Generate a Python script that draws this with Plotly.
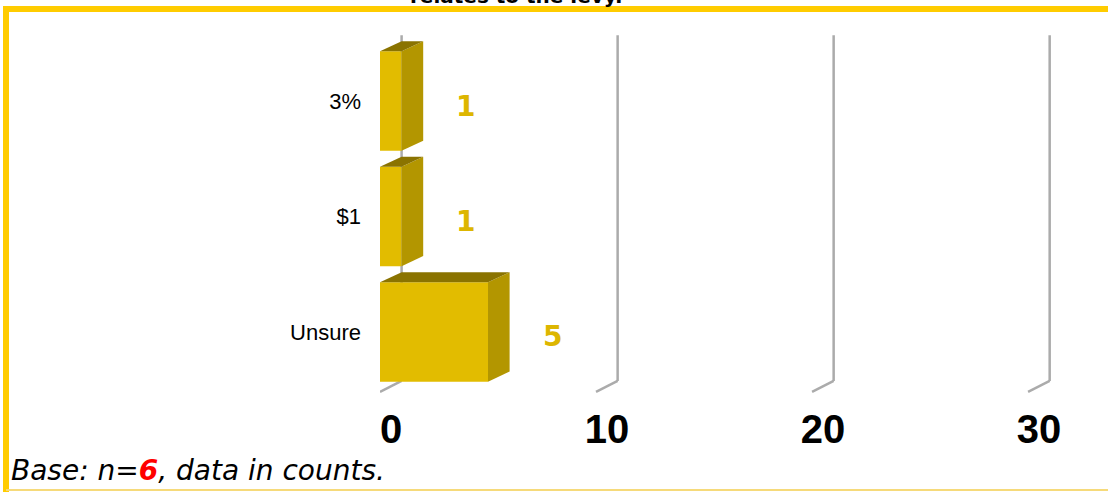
import plotly.graph_objects as go

# ---------------- data ----------------
categories = ["Unsure", "$1", "3%"]          # bottom -> top
counts = [5, 1, 1]
x_ticks = [0, 10, 20, 30]
title_text = "relates to the levy."
base_n = 6

# ---------------- style ----------------
FRONT = "#E2BC00"
SIDE = "#B39600"
TOP = "#8A7300"
GRID = "#ABABAB"
LABEL_GOLD = "#DDB600"
BORDER = "#FFCC00"

W = 0.86      # bar thickness (category units)
DX = 1.0      # 3D depth in x data units
DY = 0.087    # 3D depth in category units

# figure geometry (pixels)
FIG_W, FIG_H = 1108, 492
M_L, M_R, M_T, M_B = 380, 0, 30, 92
PLOT_W = FIG_W - M_L - M_R
PLOT_H = FIG_H - M_T - M_B


def px_x(px):
    return (px - M_L) / PLOT_W


def px_y(py):
    return (FIG_H - M_B - py) / PLOT_H


ypos = list(range(len(categories)))

fig = go.Figure(
    go.Bar(
        x=counts,
        y=ypos,
        orientation="h",
        width=W,
        marker=dict(color=FRONT, line=dict(width=0)),
        hoverinfo="skip",
    )
)

shapes = []
# back-wall gridlines with a slanted floor segment
y_top = 2.57
floor_back = -0.424
floor_front = floor_back - 0.095
for t in x_ticks:
    shapes.append(dict(type="line", xref="x", yref="y", x0=t + DX, x1=t + DX,
                       y0=floor_back, y1=y_top, layer="below",
                       line=dict(color=GRID, width=2.5)))
    shapes.append(dict(type="line", xref="x", yref="y", x0=t, x1=t + DX,
                       y0=floor_front, y1=floor_back, layer="below",
                       line=dict(color=GRID, width=2.5)))

# 3D faces of bars
for c, v in zip(ypos, counts):
    lo, hi = c - W / 2, c + W / 2
    side = f"M {v},{lo} L {v + DX},{lo + DY} L {v + DX},{hi + DY} L {v},{hi} Z"
    top = f"M 0,{hi} L {v},{hi} L {v + DX},{hi + DY} L {DX},{hi + DY} Z"
    shapes.append(dict(type="path", xref="x", yref="y", path=side,
                       fillcolor=SIDE, line=dict(width=0), layer="above"))
    shapes.append(dict(type="path", xref="x", yref="y", path=top,
                       fillcolor=TOP, line=dict(width=0), layer="above"))

# yellow frame
shapes.append(dict(type="line", xref="paper", yref="paper",
                   x0=px_x(3), x1=px_x(1120), y0=px_y(9), y1=px_y(9),
                   line=dict(color=BORDER, width=6)))
shapes.append(dict(type="line", xref="paper", yref="paper",
                   x0=px_x(6), x1=px_x(6), y0=px_y(6), y1=px_y(492),
                   line=dict(color=BORDER, width=6)))
shapes.append(dict(type="line", xref="paper", yref="paper",
                   x0=px_x(6), x1=px_x(1120), y0=px_y(490), y1=px_y(490),
                   line=dict(color="#F6DA7A", width=2)))

annotations = []
for c, v in zip(ypos, counts):
    annotations.append(dict(
        x=v, y=c, xref="x", yref="y", text=f"<b>{v}</b>", showarrow=False,
        xanchor="center", yanchor="middle", xshift=64, yshift=-5,
        font=dict(family="DejaVu Sans", size=28, color=LABEL_GOLD)))

annotations.append(dict(
    x=px_x(516), y=px_y(-4), xref="paper", yref="paper",
    text=f"<b>{title_text}</b>", showarrow=False,
    xanchor="center", yanchor="middle",
    font=dict(family="DejaVu Sans", size=20, color="black")))

annotations.append(dict(
    x=px_x(9), y=px_y(470), xref="paper", yref="paper",
    text=(f"<i>Base: n=<b><span style='color:#FF0000'>{base_n}</span></b>"
          f", data in counts.</i>"),
    showarrow=False, xanchor="left", yanchor="middle",
    font=dict(family="DejaVu Sans", size=28, color="black")))

fig.update_layout(
    width=FIG_W, height=FIG_H,
    margin=dict(l=M_L, r=M_R, t=M_T, b=M_B, pad=0),
    paper_bgcolor="white", plot_bgcolor="white",
    showlegend=False,
    shapes=shapes,
    annotations=annotations,
    xaxis=dict(range=[0, 33.7], tickvals=x_ticks, ticktext=[str(t) for t in x_ticks],
               showgrid=False, zeroline=False, showline=False, ticks="",
               ticklabelstandoff=2, ticklabelshift=11, fixedrange=True,
               tickfont=dict(family="Liberation Sans Narrow, Liberation Sans",
                             size=40, color="black", weight="bold")),
    yaxis=dict(range=[-0.589, 2.615], tickvals=ypos, ticktext=categories,
               showgrid=False, zeroline=False, showline=False, ticks="",
               ticklabelstandoff=18, fixedrange=True,
               tickfont=dict(family="Liberation Sans", size=22, color="black")),
)

fig.write_html("out.html", config={"displayModeBar": False},
               post_script="document.body.style.margin='0px';")
